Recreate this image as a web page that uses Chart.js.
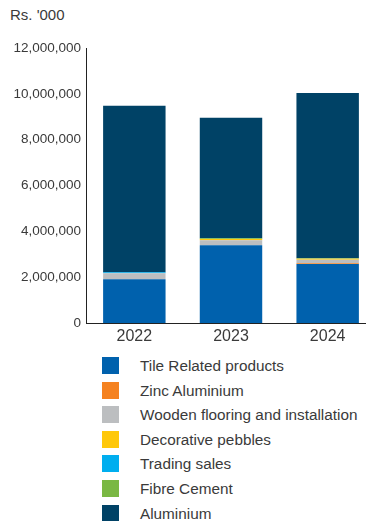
<!DOCTYPE html>
<html>
<head>
<meta charset="utf-8">
<script src="https://cdn.jsdelivr.net/npm/chart.js@4/dist/chart.umd.min.js"></script>
<style>
    html, body { margin: 0; padding: 0; background: #fff; overflow: hidden; }
    body { width: 366px; height: 521px; position: relative; font-family: "Liberation Sans", Arial, sans-serif; color: #3a3a3a; }
    #unit { position: absolute; left: 10px; top: 6px; font-size: 15px; }
    #chart-box { position: absolute; left: 0; top: 0; width: 376px; height: 345px; }
    #legend { position: absolute; left: 102px; top: 357px; margin: 0; padding: 0; list-style: none; }
    #legend li { height: 24.6px; display: flex; align-items: flex-start; font-size: 15.3px; }
    #legend .box { width: 17px; height: 17px; margin-right: 21px; flex: none; }
    #legend .txt { line-height: 17px; }
</style>
</head>
<body>
<div id="unit">Rs. '000</div>
<div id="chart-box"><canvas id="barChart"></canvas></div>
<ul id="legend"></ul>
<script>
// Chart data (Rs. '000)
const years = ['2022', '2023', '2024'];
const tileRelated = [1910000, 3390000, 2570000];
const zincAluminium = [0, 0, 40000];
const woodenFlooring = [260000, 220000, 150000];
const decorativePebbles = [0, 60000, 40000];
const tradingSales = [45000, 0, 0];
const fibreCement = [0, 25000, 30000];
const aluminium = [7265000, 5265000, 7210000];

document.addEventListener('DOMContentLoaded', () => {
    const series = [
        { label: 'Tile Related products', data: tileRelated, color: '#0061ad' },
        { label: 'Zinc Aluminium', data: zincAluminium, color: '#f58220' },
        { label: 'Wooden flooring and installation', data: woodenFlooring, color: '#bcbec0' },
        { label: 'Decorative pebbles', data: decorativePebbles, color: '#ffc80a' },
        { label: 'Trading sales', data: tradingSales, color: '#00aeef' },
        { label: 'Fibre Cement', data: fibreCement, color: '#7ab843' },
        { label: 'Aluminium', data: aluminium, color: '#004266' }
    ];

    const textColor = '#3a3a3a';
    const fontFamily = '"Liberation Sans", Arial, sans-serif';

    new Chart(document.getElementById('barChart').getContext('2d'), {
        type: 'bar',
        data: {
            labels: years,
            datasets: series.map(s => ({
                label: s.label,
                data: s.data,
                backgroundColor: s.color,
                borderWidth: 0,
                barPercentage: 0.646,
                categoryPercentage: 1
            }))
        },
        options: {
            responsive: true,
            maintainAspectRatio: false,
            animation: false,
            layout: { padding: { top: 48, left: 0, right: 0, bottom: 0 } },
            plugins: {
                legend: { display: false },
                tooltip: { enabled: false }
            },
            scales: {
                x: {
                    stacked: true,
                    offset: true,
                    grid: { display: false, drawTicks: false },
                    border: { display: true, color: '#222', width: 1 },
                    ticks: {
                        color: textColor,
                        padding: 4,
                        font: { family: fontFamily, size: 16 }
                    },
                    afterFit: scale => { scale.height = 22; }
                },
                y: {
                    stacked: true,
                    min: 0,
                    max: 12000000,
                    grid: { display: false, drawTicks: false },
                    border: { display: true, color: '#222', width: 1 },
                    ticks: {
                        stepSize: 2000000,
                        color: textColor,
                        padding: 5,
                        font: { family: fontFamily, size: 13.5 },
                        callback: v => v.toLocaleString('en-US')
                    },
                    afterFit: scale => { scale.width = 86; }
                }
            }
        }
    });

    // Single-column legend under the chart
    const legend = document.getElementById('legend');
    series.forEach(s => {
        const li = document.createElement('li');
        li.innerHTML = `<span class="box" style="background:${s.color}"></span><span class="txt">${s.label}</span>`;
        legend.appendChild(li);
    });
});
</script>
</body>
</html>
